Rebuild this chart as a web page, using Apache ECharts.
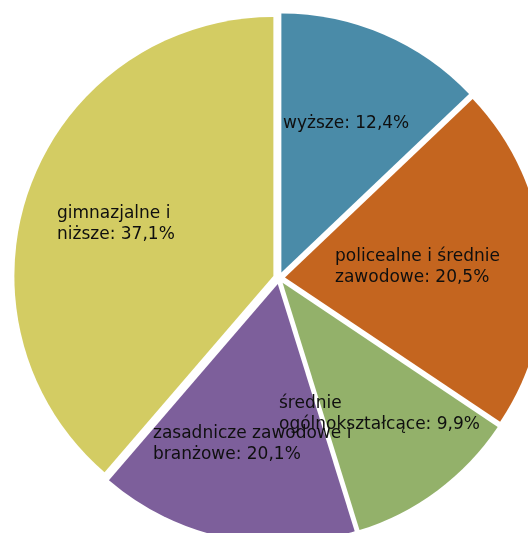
<!DOCTYPE html>
<html>
<head>
<meta charset="utf-8">
<style>
  html, body { margin: 0; padding: 0; background: #ffffff; }
  #chart { width: 528px; height: 533px; }
</style>
<script src="https://cdn.jsdelivr.net/npm/echarts@6/dist/echarts.min.js"></script>
</head>
<body>
<div id="chart"></div>
<script>
// Categories (in clockwise order starting at 12 o'clock)
const categories = [
  'wyższe',
  'policealne i średnie\nzawodowe',
  'średnie\nogólnokształcące',
  'zasadnicze zawodowe i\nbranżowe',
  'gimnazjalne i\nniższe'
];
// Printed percentages (as shown in the labels)
const printedPct = ['12,4%', '20,5%', '9,9%', '20,1%', '37,1%'];
const sliceShare = [12.9, 21.5, 10.8, 16.1, 38.7];

// Styling (kept apart from data)
const colors = ['#4A8BA8', '#C4651F', '#93B16A', '#7D5F9B', '#D3CC63'];
// Label anchor (top-left of text block) per slice
const labelAnchor = [[283, 113], [335, 246], [279, 393], [153, 423], [57, 203]];

const chart = echarts.init(document.getElementById('chart'), null, { renderer: 'canvas' });

const data = categories.map((c, i) => ({
  name: c,
  value: sliceShare[i],
  selected: true,
  itemStyle: { color: colors[i] }
}));

const labels = categories.map((c, i) => ({
  type: 'text',
  x: labelAnchor[i][0],
  y: labelAnchor[i][1],
  z: 100,
  silent: true,
  style: {
    text: c + ': ' + printedPct[i],
    fill: '#0f0f0f',
    fontFamily: 'DejaVu Sans',
    fontSize: 17,
    lineHeight: 21,
    align: 'left',
    verticalAlign: 'top'
  }
}));

chart.setOption({
  animation: false,
  backgroundColor: '#ffffff',
  graphic: { elements: labels },
  series: [{
    type: 'pie',
    center: [279, 278],
    radius: [0, 259],
    startAngle: 90,
    clockwise: true,
    selectedMode: 'multiple',
    selectedOffset: 6,
    avoidLabelOverlap: false,
    emphasis: { disabled: true },
    itemStyle: { borderWidth: 0 },
    label: { show: false },
    labelLine: { show: false },
    data: data
  }]
});
</script>
</body>
</html>
